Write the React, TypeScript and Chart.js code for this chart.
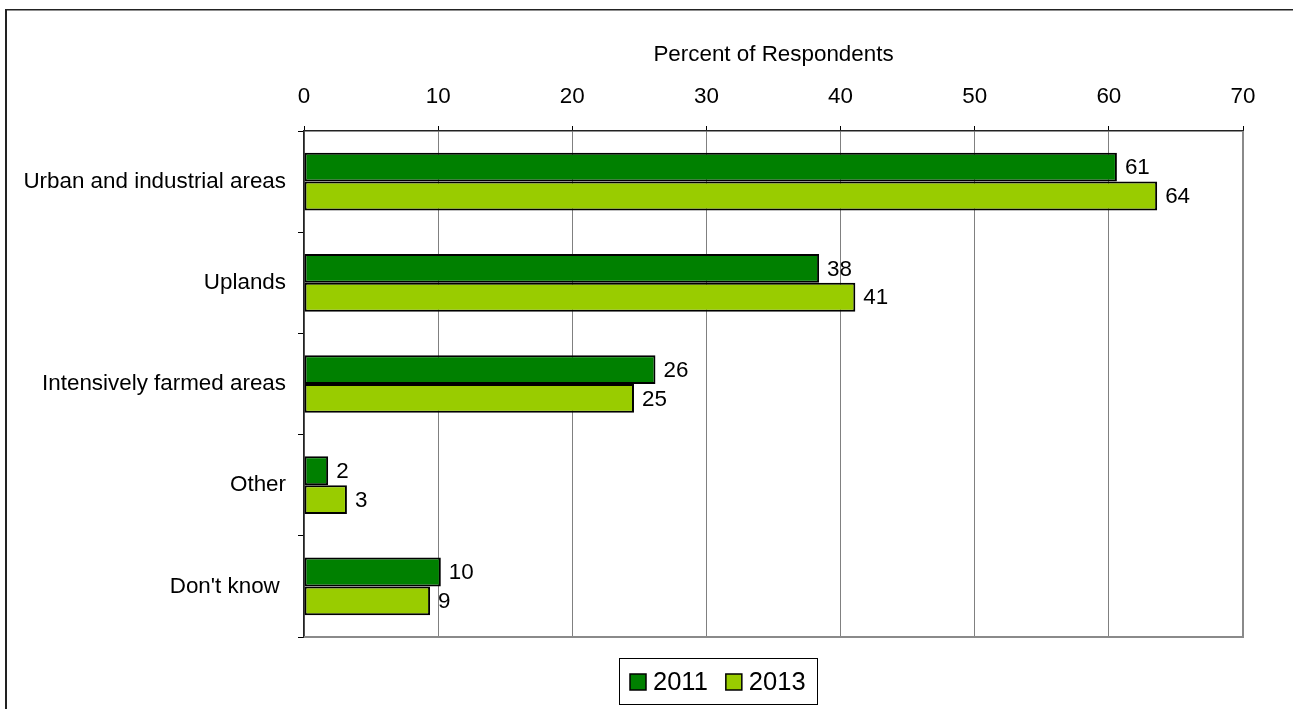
import React, { useEffect, useRef } from "react";
import { Chart, registerables } from "chart.js";

Chart.register(...registerables);

const categories = [
  "Urban and industrial areas",
  "Uplands",
  "Intensively farmed areas",
  "Other",
  "Don't know ",
];
const seriesNames = ["2011", "2013"];
const values2011 = [60.6, 38.4, 26.2, 1.8, 10.2];
const values2013 = [63.6, 41.1, 24.6, 3.2, 9.4];
const xTicks = [0, 10, 20, 30, 40, 50, 60, 70];
const axisTitle = "Percent of Respondents";

const FONT = "'Liberation Sans', Arial, Helvetica, sans-serif";
const COLORS = ["#008000", "#99CC00"];

const decorPlugin = {
  id: "decor",
  beforeDraw(chart: any) {
    const ctx = chart.ctx;
    ctx.save();
    ctx.fillStyle = "#ffffff";
    ctx.fillRect(0, 0, chart.width, chart.height);
    // outer frame (left and top edges)
    ctx.fillStyle = "#222";
    ctx.fillRect(5, 9, 2, chart.height - 9);
    ctx.fillRect(5, 9, chart.width - 5, 1.5);
    ctx.restore();
  },
  afterDatasetsDraw(chart: any) {
    const ctx = chart.ctx;
    ctx.save();
    ctx.font = `22.4px ${FONT}`;
    ctx.fillStyle = "#000";
    ctx.textAlign = "left";
    ctx.textBaseline = "middle";
    chart.data.datasets.forEach((ds: any, di: number) => {
      const meta = chart.getDatasetMeta(di);
      meta.data.forEach((bar: any, i: number) => {
        const v = ds.data[i];
        ctx.fillText(String(Math.round(v)), bar.x + 8, bar.y + 1);
      });
    });
    ctx.restore();
  },
  afterDraw(chart: any) {
    const ctx = chart.ctx;
    const a = chart.chartArea;
    ctx.save();
    // plot frame right/bottom
    ctx.strokeStyle = "#8a8a8a";
    ctx.lineWidth = 2;
    ctx.beginPath();
    ctx.moveTo(a.right, a.top);
    ctx.lineTo(a.right, a.bottom);
    ctx.lineTo(a.left, a.bottom);
    ctx.stroke();
    // legend
    const bx = 619.5, by = 658.5, bw = 198, bh = 46;
    ctx.fillStyle = "#fff";
    ctx.fillRect(bx, by, bw, bh);
    ctx.strokeStyle = "#000";
    ctx.lineWidth = 1;
    ctx.strokeRect(bx, by, bw, bh);
    ctx.font = `25.5px ${FONT}`;
    ctx.textBaseline = "middle";
    ctx.textAlign = "left";
    let x = 630;
    const cy = by + bh / 2;
    chart.data.datasets.forEach((ds: any) => {
      ctx.fillStyle = ds.backgroundColor;
      ctx.fillRect(x, cy - 7.5, 16, 16);
      ctx.strokeStyle = "#000";
      ctx.lineWidth = 1.5;
      ctx.strokeRect(x, cy - 7.5, 16, 16);
      ctx.fillStyle = "#000";
      ctx.fillText(ds.label, x + 23, cy + 1);
      x += 23 + ctx.measureText(ds.label).width + 18;
    });
    ctx.restore();
  },
};

export default function App() {
  const ref = useRef<HTMLCanvasElement | null>(null);
  useEffect(() => {
    if (!ref.current) return;
    const chart = new Chart(ref.current, {
      type: "bar",
      data: {
        labels: categories,
        datasets: [
          {
            label: seriesNames[0],
            data: values2011,
            backgroundColor: COLORS[0],
            borderColor: "#000",
            borderWidth: 2,
            borderSkipped: false,
          },
          {
            label: seriesNames[1],
            data: values2013,
            backgroundColor: COLORS[1],
            borderColor: "#000",
            borderWidth: 2,
            borderSkipped: false,
          },
        ],
      },
      options: {
        indexAxis: "y",
        responsive: false,
        animation: false,
        devicePixelRatio: 1,
        layout: { padding: { left: 0, top: 0, right: 50, bottom: 72 } },
        datasets: {
          bar: { categoryPercentage: 0.57, barPercentage: 1 },
        },
        plugins: {
          legend: { display: false },
          tooltip: { enabled: false },
        },
        scales: {
          x: {
            position: "top",
            min: xTicks[0],
            max: xTicks[xTicks.length - 1],
            afterFit: (s: any) => {
              s.height = 131;
            },
            ticks: {
              stepSize: xTicks[1] - xTicks[0],
              color: "#000",
              padding: 16,
              font: { family: FONT, size: 22.4 },
            },
            grid: {
              color: "#808080",
              tickColor: "#000",
              tickLength: 5,
              lineWidth: 1,
            },
            border: { color: "#222", width: 1.5 },
            title: {
              display: true,
              text: axisTitle,
              color: "#000",
              font: { family: FONT, size: 22.4 },
              padding: { top: 41, bottom: 0 },
            },
          },
          y: {
            afterFit: (s: any) => {
              s.width = 304;
            },
            ticks: {
              color: "#000",
              padding: 12,
              font: { family: FONT, size: 22.4 },
            },
            grid: {
              drawOnChartArea: false,
              drawTicks: true,
              tickColor: "#000",
              tickLength: 6,
            },
            border: { color: "#222", width: 1.5 },
          },
        },
      },
      plugins: [decorPlugin],
    });
    return () => chart.destroy();
  }, []);
  return (
    <div style={{ position: "absolute", left: 0, top: 0, width: 1293, height: 709 }}>
      <canvas ref={ref} width={1293} height={709} style={{ display: "block" }} />
    </div>
  );
}
